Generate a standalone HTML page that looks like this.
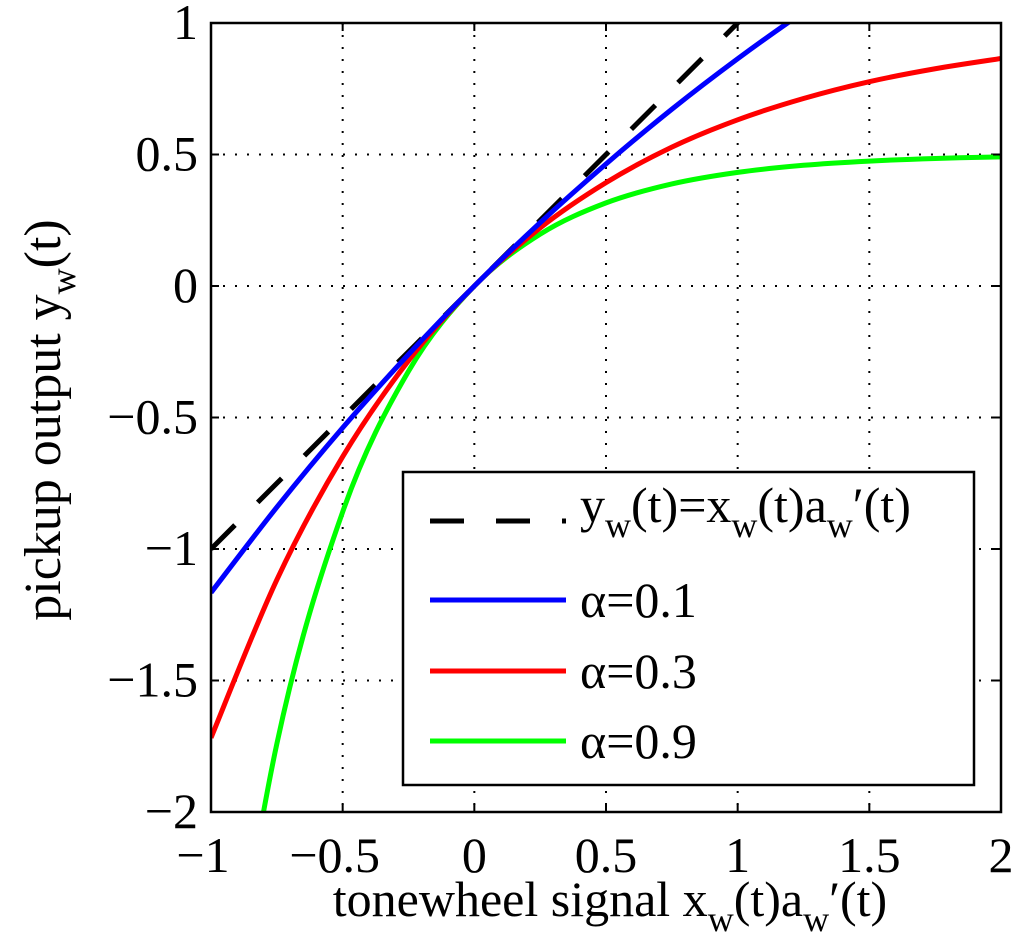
<!DOCTYPE html>
<html><head><meta charset="utf-8"><style>
html,body{margin:0;background:#fff;overflow:hidden;width:1024px;height:951px}
svg{display:block}
svg text{font-family:"Liberation Serif",serif;fill:#000}
</style></head><body>
<svg id="chart" width="1024" height="951" xmlns="http://www.w3.org/2000/svg">
<defs><clipPath id="clip"><rect x="211" y="23" width="790" height="789"/></clipPath></defs>
<g id="grid"></g>
<g id="series" clip-path="url(#clip)"></g>
<rect x="211" y="23" width="790" height="789" fill="none" stroke="#000" stroke-width="2.5"/>
<g id="ticks"></g>
<text x="610" y="916" font-size="50" text-anchor="middle">tonewheel signal x<tspan font-size="36" dy="15">w</tspan><tspan dy="-15">(t)a</tspan><tspan font-size="36" dy="15">w</tspan><tspan dy="-15">′(t)</tspan></text>
<text transform="translate(60,420) rotate(-90)" font-size="52" text-anchor="middle">pickup output y<tspan font-size="36" dy="15">w</tspan><tspan dy="-15">(t)</tspan></text>
<g>
<rect x="403" y="472" width="571" height="313" fill="#fff" stroke="#000" stroke-width="2.5"/>
<line x1="430" y1="521" x2="566" y2="521" stroke="#000" stroke-width="5" stroke-dasharray="34,32"/>
<text x="580" y="522" font-size="50">y<tspan font-size="36" dy="15">w</tspan><tspan dy="-15">(t)=x</tspan><tspan font-size="36" dy="15">w</tspan><tspan dy="-15">(t)a</tspan><tspan font-size="36" dy="15">w</tspan><tspan dy="-15">′(t)</tspan></text>
<line x1="430" y1="600" x2="566" y2="600" stroke="#0000ff" stroke-width="5"/>
<text x="580" y="617" font-size="50">α=0.1</text>
<line x1="430" y1="671" x2="566" y2="671" stroke="#ff0000" stroke-width="5"/>
<text x="580" y="688" font-size="50">α=0.3</text>
<line x1="430" y1="741" x2="566" y2="741" stroke="#00ff00" stroke-width="5"/>
<text x="580" y="758" font-size="50">α=0.9</text>
</g>
</svg>
<script>
const xs=[-1,-0.75,-0.5,-0.25,0,0.25,0.5,0.75,1,1.25,1.5,1.75,2];
const refY=[-1,-0.75,-0.5,-0.25,0,0.25,0.5,0.75,1,1.25,1.5,1.75,2];
const blueY=[-1.166,-0.841,-0.539,-0.260,0,0.241,0.464,0.672,0.864,1.042,1.208,1.361,1.504];
const redY=[-1.718,-1.117,-0.649,-0.284,0,0.221,0.393,0.528,0.632,0.713,0.777,0.826,0.865];
const greenY=[-3.195,-1.741,-0.859,-0.324,0,0.197,0.316,0.388,0.432,0.459,0.475,0.485,0.491];
const xTicks=[-1,-0.5,0,0.5,1,1.5,2];
const yTicks=[1,0.5,0,-0.5,-1,-1.5,-2];
const xTickLabels=["−1","−0.5","0","0.5","1","1.5","2"];
const yTickLabels=["1","0.5","0","−0.5","−1","−1.5","−2"];
const NS="http://www.w3.org/2000/svg";
const X=v=>211+(v+1)*790/3, Y=v=>23+(1-v)*789/3;
function mk(tag,attrs,parent){const e=document.createElementNS(NS,tag);for(const k in attrs)e.setAttribute(k,attrs[k]);parent.appendChild(e);return e;}
const grid=document.getElementById('grid'),ticks=document.getElementById('ticks'),ser=document.getElementById('series');
xTicks.forEach((t,i)=>{
 if(i>0&&i<xTicks.length-1){const g=mk('line',{x1:X(t),x2:X(t),y1:23,y2:812,stroke:'#000','stroke-width':2,'stroke-dasharray':'2,10'},grid);
 
 }
 const a=mk('line',{x1:X(t),x2:X(t),y1:812,y2:804,stroke:'#000','stroke-width':2},ticks);
 
 
 const b=mk('line',{x1:X(t),x2:X(t),y1:23,y2:31,stroke:'#000','stroke-width':2},ticks);
 
 
 const l=mk('text',{x:X(t)-(t<0?8:0),y:872,'font-size':50,'text-anchor':'middle'},ticks);l.textContent=xTickLabels[i];
 
 
});
yTicks.forEach((t,i)=>{
 if(i>0&&i<yTicks.length-1){const g=mk('line',{x1:211,x2:1001,y1:Y(t),y2:Y(t),stroke:'#000','stroke-width':2,'stroke-dasharray':'2,10'},grid);
 
 }
 const a=mk('line',{x1:211,x2:219,y1:Y(t),y2:Y(t),stroke:'#000','stroke-width':2},ticks);
 
 
 const b=mk('line',{x1:993,x2:1001,y1:Y(t),y2:Y(t),stroke:'#000','stroke-width':2},ticks);
 
 
 const l=mk('text',{x:198,y:Y(t)+16,'font-size':50,'text-anchor':'end'},ticks);l.textContent=yTickLabels[i];
 
 
});
function path(ys){const p=xs.map((x,i)=>[X(x),Y(ys[i])]);let d=`M${p[0][0]},${p[0][1]}`;
 for(let i=0;i<p.length-1;i++){const p0=p[Math.max(0,i-1)],p1=p[i],p2=p[i+1],p3=p[Math.min(p.length-1,i+2)];
 d+=` C${p1[0]+(p2[0]-p0[0])/6},${p1[1]+(p2[1]-p0[1])/6} ${p2[0]-(p3[0]-p1[0])/6},${p2[1]-(p3[1]-p1[1])/6} ${p2[0]},${p2[1]}`;}
 return d;}
const r=mk('path',{d:path(refY),fill:'none',stroke:'#000','stroke-width':5,'stroke-dasharray':'34,32'},ser);


const gr=mk('path',{d:path(greenY),fill:'none',stroke:'#00ff00','stroke-width':5},ser);


const rd=mk('path',{d:path(redY),fill:'none',stroke:'#ff0000','stroke-width':5},ser);


const bl=mk('path',{d:path(blueY),fill:'none',stroke:'#0000ff','stroke-width':5},ser);


</script>
</body></html>
